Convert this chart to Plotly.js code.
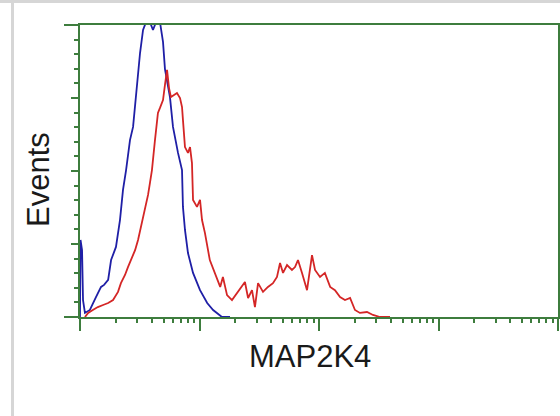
<!DOCTYPE html>
<html>
<head>
<meta charset="utf-8">
<script src="https://cdn.plot.ly/plotly-3.0.1.min.js"></script>
<style>
  html, body { margin: 0; padding: 0; background: #ffffff; }
  #wrap { position: relative; width: 560px; height: 416px; overflow: hidden; }
  #chart { position: absolute; left: 0; top: 0; width: 560px; height: 416px; }
  .deco { position: absolute; background: #d6d6d6; pointer-events: none; }
</style>
</head>
<body>
<div id="wrap">
  <div id="chart"></div>
  <div class="deco" style="left:0;top:0;width:560px;height:3px;"></div>
  <div class="deco" style="left:11px;top:0;width:3px;height:416px;"></div>
</div>
<script>
// Fluorescence intensity (log scale) and event counts (relative, 0-100)
const controlX = [1.00, 1.01, 1.04, 1.06, 1.10, 1.21, 1.36, 1.50, 1.59, 1.72, 1.82, 2.00, 2.16, 2.29, 2.43,
  2.62, 2.78, 2.94, 3.18, 3.37, 3.57, 3.85, 4.08, 4.33, 4.67, 4.95, 5.14, 5.66, 6.00, 6.61, 7.14, 7.27,
  7.56, 8.01, 8.83, 10.1, 11.6, 13.0, 15.4, 18.0];
const controlY = [0, 26.4, 22.9, 5.8, 1.4, 2.4, 6.8, 10.3, 11.0, 12.7, 19.5, 24.0, 33.2, 43.5, 50.3,
  60.6, 65.1, 76.7, 90.4, 98.3, 101, 101, 98.3, 101, 101, 94.2, 84.9, 75.3, 65.1, 56.2, 50.3, 37.7,
  29.8, 21.9, 15.1, 9.2, 4.8, 2.4, 0, 0];

const sampleX = [1.10, 1.17, 1.28, 1.41, 1.56, 1.72, 1.89, 1.96, 2.08, 2.20, 2.38, 2.52, 2.72, 2.89, 3.06,
  3.24, 3.43, 3.57, 3.71, 3.85, 4.00, 4.24, 4.49, 4.67, 4.95, 5.14, 5.35, 5.56, 5.77, 6.12, 6.48, 6.87,
  7.14, 7.27, 7.56, 8.01, 8.33, 8.65, 8.83, 9.53, 10.1, 10.5, 11.1, 12.2, 13.5, 14.9, 15.7, 17.0, 18.7,
  20.6, 22.7, 24.0, 25.5, 27.5, 29.1, 30.9, 34.0, 37.4, 41.2, 44.5, 47.2, 50.0, 54.0, 59.4, 63.0, 66.7,
  72.1, 79.4, 87.4, 92.6, 102, 112, 124, 136, 150, 165, 182, 200, 220, 252, 283, 324, 393];
const sampleY = [0, 1.4, 2.4, 3.4, 4.1, 4.8, 5.8, 6.8, 8.6, 11.6, 14.4, 17.1, 20.2, 22.9, 26.4,
  30.8, 34.9, 37.7, 41.8, 45.9, 50.3, 60.6, 69.9, 71.6, 74.3, 79.5, 84.6, 78.4, 75.3, 76.0, 76.7, 75.0,
  71.9, 67.5, 58.2, 56.2, 58.2, 52.7, 40.1, 37.7, 40.1, 33.2, 28.8, 19.5, 15.1, 10.3, 13.7, 7.5, 5.8,
  8.2, 10.3, 12.0, 6.5, 9.2, 3.4, 11.6, 8.6, 10.3, 11.6, 13.7, 18.5, 15.1, 17.8, 16.1, 17.1, 19.5,
  15.1, 9.2, 21.2, 16.1, 13.7, 15.1, 10.3, 9.2, 6.8, 5.8, 6.5, 2.4, 1.4, 1.7, 0.7, 0, 0];

const xMajor = [1, 10, 100, 1000, 10000];
const xMinor = [];
for (let d = 1; d < 10000; d *= 10) for (let k = 2; k <= 9; k++) xMinor.push(k * d);
const yMajor = [0, 25, 50, 75, 100];
const yMinor = [];
for (let v = 5; v < 100; v += 5) if (v % 25 !== 0) yMinor.push(v);

const xTitle = 'MAP2K4';
const yTitle = 'Events';

const green = '#3e7d3e';

const traces = [
  { x: controlX, y: controlY, type: 'scatter', mode: 'lines', name: 'Control',
    line: { color: '#1f1fa6', width: 1.8 }, hoverinfo: 'skip' },
  { x: sampleX, y: sampleY, type: 'scatter', mode: 'lines', name: 'MAP2K4',
    line: { color: '#d42626', width: 1.8 }, hoverinfo: 'skip' }
];

const layout = {
  width: 560, height: 416,
  margin: { l: 80, r: 2, t: 25, b: 99 },
  paper_bgcolor: '#ffffff', plot_bgcolor: '#ffffff',
  showlegend: false,
  font: { family: 'Liberation Sans, Arial, sans-serif', color: '#1a1a1a' },
  xaxis: {
    type: 'log', range: [0, 4], autorange: false,
    showline: true, mirror: true, linecolor: green, linewidth: 2,
    showgrid: false, zeroline: false,
    tickmode: 'array', tickvals: xMajor, showticklabels: false,
    ticks: 'outside', ticklen: 12, tickwidth: 2, tickcolor: green,
    minor: { tickmode: 'array', tickvals: xMinor, ticks: 'outside', ticklen: 4, tickwidth: 2, tickcolor: green, showgrid: false }
  },
  yaxis: {
    range: [0, 100], autorange: false,
    showline: true, mirror: true, linecolor: green, linewidth: 2,
    showgrid: false, zeroline: false,
    tickmode: 'array', tickvals: yMajor, showticklabels: false,
    ticks: 'outside', ticklen: 7, tickwidth: 2, tickcolor: green,
    minor: { tickmode: 'array', tickvals: yMinor, ticks: 'outside', ticklen: 4, tickwidth: 2, tickcolor: green, showgrid: false }
  },
  annotations: [
    { text: xTitle, xref: 'paper', yref: 'paper', x: 0.481, y: -0.1336, xanchor: 'center', yanchor: 'middle',
      showarrow: false, font: { size: 31, color: '#1a1a1a' } },
    { text: yTitle, xref: 'paper', yref: 'paper', x: -0.0879, y: 0.4726, xanchor: 'center', yanchor: 'middle',
      textangle: -90, showarrow: false, font: { size: 31, color: '#1a1a1a' } }
  ],
  shapes: [
    { type: 'line', xref: 'paper', yref: 'paper', x0: -16 / 478, x1: 0, y0: 0, y1: 0, line: { color: green, width: 2 } },
    { type: 'line', xref: 'paper', yref: 'paper', x0: -16 / 478, x1: 0, y0: 1, y1: 1, line: { color: green, width: 2 } }
  ]
};

Plotly.newPlot('chart', traces, layout, { staticPlot: true, displayModeBar: false });
</script>
</body>
</html>
